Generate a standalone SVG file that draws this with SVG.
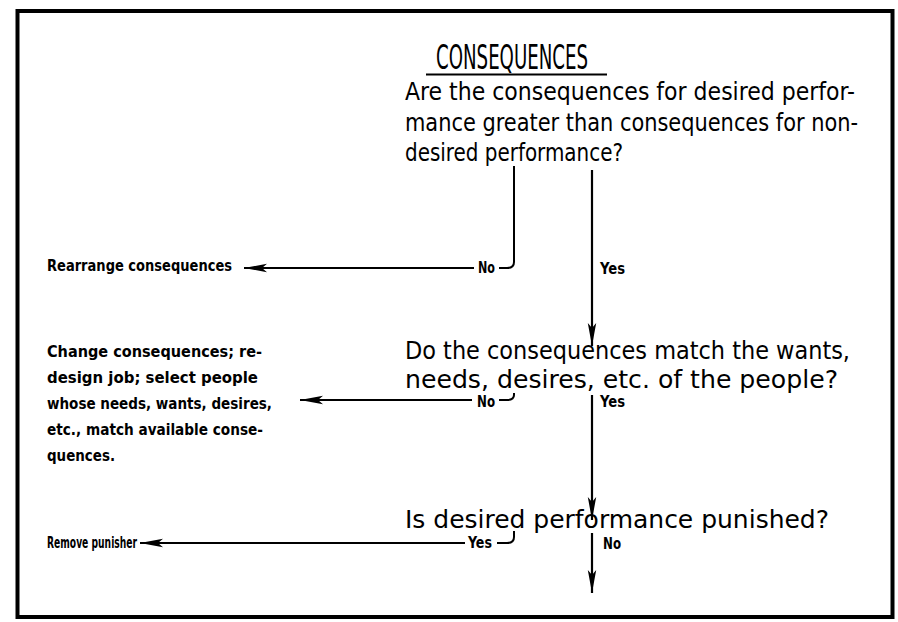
<svg xmlns="http://www.w3.org/2000/svg" width="898" height="622" viewBox="0 0 898 622">
<defs>
<marker id="ah" markerUnits="userSpaceOnUse" markerWidth="26" markerHeight="12" refX="23" refY="5" orient="auto">
<path d="M0,0.8 L23,5 L0,9.2 L5,5 Z" fill="#000"/>
</marker>
</defs>
<style>
.q{font-family:"Liberation Sans Narrow","DejaVu Sans Condensed","Liberation Sans",sans-serif;font-size:24px;fill:#000}
.t{font-family:"Liberation Sans Narrow","DejaVu Sans Condensed","Liberation Sans",sans-serif;font-size:33px;fill:#000}
.l{font-family:"Liberation Sans Narrow","DejaVu Sans Condensed","Liberation Sans",sans-serif;font-size:15px;font-weight:bold;fill:#000}
.c{fill:none;stroke:#000;stroke-width:2}
.a{fill:none;stroke:#000;stroke-width:2.2;marker-end:url(#ah)}
</style>
<rect x="0" y="0" width="898" height="622" fill="#fff"/>
<rect x="17.5" y="11" width="875" height="606" fill="none" stroke="#000" stroke-width="4"/>
<g id="title">
<text class="t" x="436" y="69" textLength="152" lengthAdjust="spacingAndGlyphs">CONSEQUENCES</text>
<line x1="426" y1="74.5" x2="607" y2="74.5" stroke="#000" stroke-width="2"/>
</g>
<g id="q1">
<text class="q" x="405" y="100" textLength="450" lengthAdjust="spacingAndGlyphs">Are the consequences for desired perfor-</text>
<text class="q" x="405" y="131" textLength="453" lengthAdjust="spacingAndGlyphs">mance greater than consequences for non-</text>
<text class="q" x="405" y="161" textLength="218" lengthAdjust="spacingAndGlyphs">desired performance?</text>
</g>
<g id="q2">
<text class="q" x="405" y="359" textLength="445" lengthAdjust="spacingAndGlyphs">Do the consequences match the wants,</text>
<text class="q" x="405" y="388" textLength="433" lengthAdjust="spacingAndGlyphs">needs, desires, etc. of the people?</text>
</g>
<g id="q3">
<text class="q" x="405" y="528" textLength="424" lengthAdjust="spacingAndGlyphs">Is desired performance punished?</text>
</g>
<g id="a1">
<text class="l" x="47" y="271" textLength="185" lengthAdjust="spacingAndGlyphs">Rearrange consequences</text>
</g>
<g id="a2">
<text class="l" x="47" y="357" textLength="215" lengthAdjust="spacingAndGlyphs">Change consequences; re-</text>
<text class="l" x="47" y="383" textLength="211" lengthAdjust="spacingAndGlyphs">design job; select people</text>
<text class="l" x="47" y="409" textLength="225" lengthAdjust="spacingAndGlyphs">whose needs, wants, desires,</text>
<text class="l" x="47" y="435" textLength="216" lengthAdjust="spacingAndGlyphs">etc., match available conse-</text>
<text class="l" x="47" y="461" textLength="68" lengthAdjust="spacingAndGlyphs">quences.</text>
</g>
<g id="a3">
<text class="l" x="47" y="548" textLength="90" lengthAdjust="spacingAndGlyphs">Remove punisher</text>
</g>
<g id="connectors">
<path class="c" d="M514,166 V262 Q514,268 507,268 H499"/>
<text class="l" x="478" y="273" textLength="17" lengthAdjust="spacingAndGlyphs">No</text>
<path class="a" d="M474,268 H244"/>
<path class="a" d="M592,170 V346"/>
<text class="l" x="600" y="274" textLength="25" lengthAdjust="spacingAndGlyphs">Yes</text>
<path class="c" d="M514,393 V395 Q514,400 507,400 H499"/>
<text class="l" x="477" y="407" textLength="18" lengthAdjust="spacingAndGlyphs">No</text>
<path class="a" d="M472,400 H300"/>
<path class="a" d="M592,395 V520"/>
<text class="l" x="600" y="407" textLength="25" lengthAdjust="spacingAndGlyphs">Yes</text>
<path class="c" d="M514,531 V537 Q514,543 507,543 H497"/>
<text class="l" x="468" y="548" textLength="24" lengthAdjust="spacingAndGlyphs">Yes</text>
<path class="a" d="M465,543 H140"/>
<path class="a" d="M592,533 V593"/>
<text class="l" x="603" y="549" textLength="18" lengthAdjust="spacingAndGlyphs">No</text>
</g>
</svg>
